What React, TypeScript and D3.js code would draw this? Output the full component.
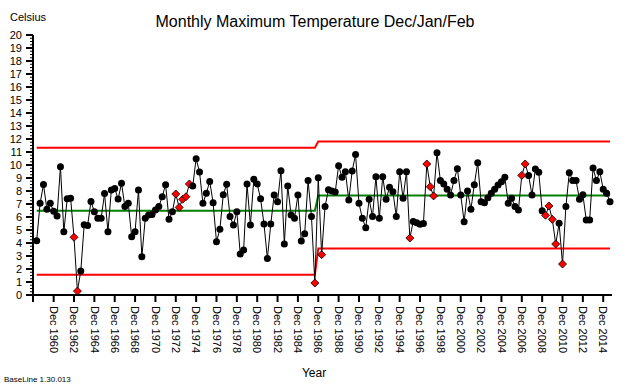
import React from 'react';
import * as d3 from 'd3';

// Monthly max temperature, Jan 1959 .. Feb 2015 (Dec/Jan/Feb only)
const phase1Temps = [
    4.18, 7.05, 8.5, 6.6, 7.05, 6.45, 6.08, 9.87, 4.87, 7.4,
    7.44, 4.44, 0.3, 1.85, 5.4, 5.35, 7.2, 6.4, 5.9, 5.9,
    7.8, 4.87, 8.08, 8.2, 7.38, 8.59, 6.8, 7.05, 4.49, 4.87,
    8.08, 2.95, 5.9, 6.15, 6.2, 6.54, 6.8, 7.56, 8.49, 5.82,
    6.41, 7.77, 6.74, 7.36, 7.56, 8.54, 8.38, 10.49, 9.46, 7.05,
    7.82, 8.74, 7.1, 4.1, 5.05, 7.72, 8.51, 6.03, 5.38, 6.41,
    3.15, 3.46, 8.54, 5.38, 8.9, 8.54, 7.41, 5.46, 2.8, 5.46,
    7.69, 7.18, 9.56, 3.92, 8.38, 6.15, 5.9, 7.69, 4.15, 4.72,
    8.8, 6.03, 0.92,
];
const phase2Temps = [
    9.02, 3.1, 6.8, 8.1, 8.0, 7.92, 9.95,
    9.05, 9.49, 7.31, 9.54, 10.8, 7.05, 5.9, 5.18, 7.36, 6.03,
    9.1, 5.9, 9.1, 7.36, 8.28, 7.95, 6.03, 9.49, 7.44, 9.49,
    4.38, 5.65, 5.55, 5.45, 5.5, 10.08, 8.33, 7.62, 10.95, 8.8,
    8.54, 8.13, 7.69, 8.8, 9.72, 7.69, 5.64, 8.0, 6.59, 8.49,
    10.18, 7.18, 7.1, 7.49, 7.82, 8.13, 8.46, 8.72, 9.05, 7.05,
    7.44, 6.8, 6.54, 9.2, 10.08, 9.2, 7.69, 9.7, 9.45, 6.49,
    6.13, 6.85, 5.82, 3.92, 5.51, 2.38, 6.8, 9.41, 8.8, 8.8,
    7.36, 7.72, 5.77, 5.77, 9.77, 8.8, 9.49, 8.13, 7.82, 7.18,
];
// [lower limit, mean, upper limit]
const phase1Limits = [1.56, 6.49, 11.33];
const phase2Limits = [3.57, 7.65, 11.8];

// points flagged by the run rules (drawn as red diamonds)
const flaggedIdx = [11, 12, 41, 42, 43, 44, 45, 82, 84, 110, 115, 116, 117, 143, 144, 150, 151, 152, 153, 155];

const tickLabels = [
    'Dec 1960', 'Dec 1962', 'Dec 1964', 'Dec 1966', 'Dec 1968', 'Dec 1970', 'Dec 1972',
    'Dec 1974', 'Dec 1976', 'Dec 1978', 'Dec 1980', 'Dec 1982', 'Dec 1984', 'Dec 1986',
    'Dec 1988', 'Dec 1990', 'Dec 1992', 'Dec 1994', 'Dec 1996', 'Dec 1998', 'Dec 2000',
    'Dec 2002', 'Dec 2004', 'Dec 2006', 'Dec 2008', 'Dec 2010', 'Dec 2012', 'Dec 2014',
];
const yTicks = d3.range(0, 21);

// month categories along the axis
const months: string[] = ['Jan 1959', 'Feb 1959'];
for (let y = 1959; y <= 2014; y++) {
    months.push(`Dec ${y}`, `Jan ${y + 1}`, `Feb ${y + 1}`);
}

const W = 630;
const H = 388;
const FONT = 'Arial, "Liberation Sans", sans-serif';

export default function App() {
    const temps = [...phase1Temps, ...phase2Temps];
    const x = d3.scalePoint<string>().domain(months).range([36.7, 610]);
    const y = d3.scaleLinear().domain([0, 20]).range([295, 35]);

    const data = temps.map((v, i) => ({ m: months[i], v, i }));
    const line = d3.line<{ m: string; v: number }>()
        .x(d => x(d.m)!)
        .y(d => y(d.v));

    const n1 = phase1Temps.length;
    const first = months[0];
    const lastP1 = months[n1 - 1];
    const firstP2 = months[n1];
    const last = months[months.length - 1];

    const limitPath = (k: number) => line([
        { m: first, v: phase1Limits[k] },
        { m: lastP1, v: phase1Limits[k] },
        { m: firstP2, v: phase2Limits[k] },
        { m: last, v: phase2Limits[k] },
    ])!;

    const flagged = new Set(flaggedIdx);
    const minorTicks = d3.range(0, 20.001, 0.25).filter(t => Math.abs(t - Math.round(t)) > 0.01);

    return (
        <div style={{ position: 'absolute', left: 0, top: 0 }}>
            <svg width={W} height={H} style={{ display: 'block', background: '#fff' }}>
                <text x={315} y={27} textAnchor="middle" fontFamily={FONT} fontSize={16}>
                    Monthly Maximum Temperature Dec/Jan/Feb
                </text>
                <text x={10} y={21} fontFamily={FONT} fontSize={11}>Celsius</text>

                {/* y axis */}
                <line x1={33} x2={33} y1={y(20)} y2={302} stroke="#000" strokeWidth={2} />
                {yTicks.map(t => (
                    <g key={t}>
                        <line x1={26} x2={33} y1={y(t)} y2={y(t)} stroke="#000" strokeWidth={2} />
                        <text x={22} y={y(t) + 4} textAnchor="end" fontFamily={FONT} fontSize={11}>{t}</text>
                    </g>
                ))}
                {minorTicks.map(t => (
                    <line key={t} x1={30} x2={33} y1={y(t)} y2={y(t)} stroke="#000" strokeWidth={1} />
                ))}

                {/* x axis */}
                <line x1={32} x2={612} y1={295} y2={295} stroke="#000" strokeWidth={2} />
                {tickLabels.map(lbl => (
                    <g key={lbl} transform={`translate(${x(lbl)},0)`}>
                        <line y1={295} y2={302} stroke="#000" strokeWidth={2} />
                        <text transform="translate(0,306) rotate(90)" dy="0.35em" fontFamily={FONT} fontSize={11}>{lbl}</text>
                    </g>
                ))}
                <text x={314} y={377} textAnchor="middle" fontFamily={FONT} fontSize={12}>Year</text>
                <text x={4} y={382} fontFamily={FONT} fontSize={8}>BaseLine 1.30.013</text>

                {/* limits and mean */}
                <path d={limitPath(0)} fill="none" stroke="#ff0000" strokeWidth={2} />
                <path d={limitPath(2)} fill="none" stroke="#ff0000" strokeWidth={2} />
                <path d={limitPath(1)} fill="none" stroke="#008000" strokeWidth={2} />

                {/* data */}
                <path d={line(data)!} fill="none" stroke="#000" strokeWidth={1} />
                {data.map(d => {
                    const cx = x(d.m)!;
                    const cy = y(d.v);
                    if (flagged.has(d.i)) {
                        return (
                            <path key={d.i}
                                d={`M${cx},${cy - 4}L${cx + 4},${cy}L${cx},${cy + 4}L${cx - 4},${cy}Z`}
                                fill="#ff0000" stroke="#000" strokeWidth={0.8} />
                        );
                    }
                    return <circle key={d.i} cx={cx} cy={cy} r={3.5} fill="#000" />;
                })}
            </svg>
        </div>
    );
}
